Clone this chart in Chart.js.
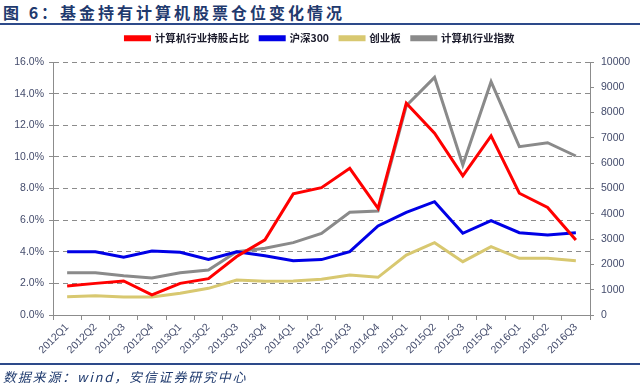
<!DOCTYPE html>
<html lang="zh">
<head>
<meta charset="UTF-8">
<title>基金持有计算机股票仓位变化情况</title>
<script src="https://cdn.jsdelivr.net/npm/chart.js@4.4.1/dist/chart.umd.min.js"></script>
<style>
  body { margin: 0; width: 640px; height: 385px; background: #fff; position: relative; overflow: hidden; }
  #title { position: absolute; left: 3px; top: 0px; font: bold 16px "Noto Sans CJK SC"; color: #1f3a6e; letter-spacing: 3px; white-space: nowrap; }
  .rule { position: absolute; left: 0; width: 640px; height: 2px; background: #2d4a8a; }
  #source { position: absolute; left: 3px; top: 367px; font: italic 13px "Noto Sans CJK SC"; color: #1f3a6e; letter-spacing: 1.8px; white-space: nowrap; }
  #wrap { position: absolute; left: 0; top: 0; width: 640px; height: 385px; }
</style>
</head>
<body>
<div id="title">图 6：基金持有计算机股票仓位变化情况</div>
<div class="rule" style="top:23px"></div>
<div id="wrap"><canvas id="chart"></canvas></div>
<div class="rule" style="top:363px"></div>
<div id="source">数据来源：wind，安信证券研究中心</div>
<script>
// quarters on the x axis
const quarters = ["2012Q1", "2012Q2", "2012Q3", "2012Q4", "2013Q1", "2013Q2", "2013Q3", "2013Q4",
  "2014Q1", "2014Q2", "2014Q3", "2014Q4", "2015Q1", "2015Q2", "2015Q3", "2015Q4",
  "2016Q1", "2016Q2", "2016Q3"];
// fund holding share of computer stocks, % (left axis)
const holdShare = [1.84, 2.0, 2.15, 1.27, 2.0, 2.3, 3.7, 4.75, 7.66, 8.05, 9.28, 6.75, 13.4, 11.5, 8.8, 11.33, 7.7, 6.8, 4.75];
// index levels (right axis)
const hs300 = [2502, 2502, 2280, 2530, 2478, 2200, 2502, 2344, 2146, 2190, 2502, 3518, 4059, 4478, 3229, 3727, 3253, 3162, 3253];
const chinext = [723, 763, 711, 711, 857, 1054, 1383, 1331, 1344, 1410, 1581, 1489, 2371, 2859, 2108, 2701, 2240, 2240, 2148];
const computerIdx = [1673, 1673, 1555, 1462, 1673, 1779, 2502, 2635, 2859, 3228, 4059, 4110, 8270, 9394, 5929, 9222, 6653, 6811, 6285];

const tickColor = "#444c6c";
const axisColor = "#8c8c8c";

function line(label, data, color, axis) {
  return {
    label: label, data: data, yAxisID: axis,
    borderColor: color, backgroundColor: color,
    borderWidth: 3, pointRadius: 0, tension: 0, fill: false
  };
}

// fix legend height so plot top lands where it should
const legendHeight = {
  id: "legendHeight",
  beforeLayout(chart) {
    const lg = chart.legend;
    if (lg && !lg._fixed) {
      const fit = lg.fit;
      lg.fit = function () { fit.call(this); this.height = 40; };
      lg._fixed = true;
    }
  }
};

new Chart(document.getElementById("chart"), {
  type: "line",
  data: {
    labels: quarters,
    datasets: [
      line("计算机行业持股占比", holdShare, "#ff0000", "y"),
      line("沪深300", hs300, "#0000e6", "y1"),
      line("创业板", chinext, "#d8c870", "y1"),
      line("计算机行业指数", computerIdx, "#8a8a8a", "y1")
    ]
  },
  options: {
    responsive: true,
    maintainAspectRatio: false,
    animation: false,
    layout: { padding: { top: 22, left: 0, right: 0, bottom: 0 } },
    plugins: {
      legend: {
        position: "top",
        labels: {
          boxWidth: 24, boxHeight: 3, padding: 11, color: "#1c1c2c",
          font: { family: "Noto Sans CJK SC", size: 10.5, weight: "bold" }
        }
      },
      tooltip: { enabled: false }
    },
    scales: {
      x: {
        offset: true,
        grid: { offset: true, drawOnChartArea: false, drawTicks: true, tickLength: 5, color: axisColor },
        border: { display: true, color: axisColor, width: 1 },
        ticks: {
          minRotation: 45, maxRotation: 45, autoSkip: false, padding: 1, color: tickColor,
          font: { family: "Liberation Sans", size: 10.5 }
        },
        afterFit(scale) { scale.height = 70; }
      },
      y: {
        position: "left", min: 0, max: 16,
        grid: { color: axisColor, drawTicks: true, tickLength: 4 },
        border: { display: true, color: axisColor, width: 1, dash: [5, 4] },
        ticks: {
          stepSize: 2, padding: 5, color: tickColor,
          font: { family: "Liberation Sans", size: 10.5 },
          callback: v => v.toFixed(1) + "%"
        },
        afterFit(scale) { scale.width = 53; }
      },
      y1: {
        position: "right", min: 0, max: 10000,
        grid: { drawOnChartArea: false, drawTicks: true, tickLength: 4, color: axisColor },
        border: { display: true, color: axisColor, width: 1 },
        ticks: {
          stepSize: 1000, padding: 7, color: tickColor,
          font: { family: "Liberation Sans", size: 10.5 },
          callback: v => String(v)
        },
        afterFit(scale) { scale.width = 50; }
      }
    }
  },
  plugins: [legendHeight]
});
</script>
</body>
</html>
